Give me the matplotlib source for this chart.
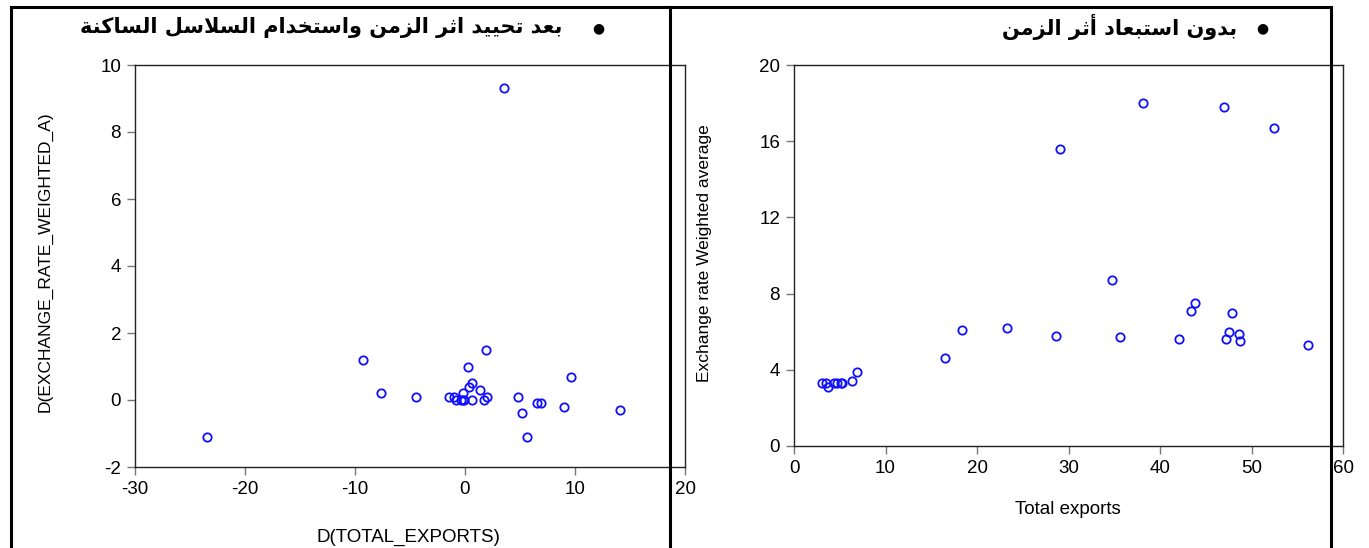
import matplotlib
matplotlib.use("Agg")
import matplotlib.pyplot as plt
from matplotlib.lines import Line2D

# ---------------- data ----------------
left_x = [3.5, -9.3, 1.9, 0.3, 9.6, 0.6, 0.4, 1.4, -7.6, -0.2, -4.5, -1.5, -1.0,
          2.0, 4.8, -0.8, -0.4, -0.2, -0.1, 0.6, 1.7, 6.5, 6.9, 9.0, 5.2, 14.1,
          5.6, -23.5]
left_y = [9.3, 1.2, 1.5, 1.0, 0.7, 0.5, 0.4, 0.3, 0.2, 0.2, 0.1, 0.1, 0.1,
          0.1, 0.1, 0.0, 0.0, 0.0, 0.0, 0.0, 0.0, -0.1, -0.1, -0.2, -0.4, -0.3,
          -1.1, -1.1]

right_x = [3.1, 3.45, 4.4, 4.7, 5.1, 5.3, 3.7, 6.3, 6.9, 16.5, 18.4, 23.3, 28.6,
           29.1, 34.7, 35.6, 38.1, 42.1, 43.4, 43.8, 47.0, 47.2, 47.5, 47.9,
           48.6, 48.7, 52.5, 56.2]
right_y = [3.3, 3.3, 3.3, 3.3, 3.3, 3.3, 3.1, 3.4, 3.9, 4.6, 6.1, 6.2, 5.8,
           15.6, 8.7, 5.7, 18.0, 5.6, 7.1, 7.5, 17.8, 5.6, 6.0, 7.0,
           5.9, 5.5, 16.7, 5.3]

left_xticks = [-30, -20, -10, 0, 10, 20]
left_yticks = [-2, 0, 2, 4, 6, 8, 10]
right_xticks = [0, 10, 20, 30, 40, 50, 60]
right_yticks = [0, 4, 8, 12, 16, 20]

left_title = "بعد تحييد اثر الزمن واستخدام السلاسل الساكنة"
right_title = "بدون استبعاد أثر الزمن"
left_xlabel = "D(TOTAL_EXPORTS)"
left_ylabel = "D(EXCHANGE_RATE_WEIGHTED_A)"
right_xlabel = "Total exports"
right_ylabel = "Exchange rate Weighted average"

# ---------------- Arabic shaping (manual) ----------------
FORMS = {
    'ا': ('\uFE8D', '\uFE8E', None, None),
    'أ': ('\uFE83', '\uFE84', None, None),
    'ب': ('\uFE8F', '\uFE90', '\uFE91', '\uFE92'),
    'ة': ('\uFE93', '\uFE94', None, None),
    'ت': ('\uFE95', '\uFE96', '\uFE97', '\uFE98'),
    'ث': ('\uFE99', '\uFE9A', '\uFE9B', '\uFE9C'),
    'ح': ('\uFEA1', '\uFEA2', '\uFEA3', '\uFEA4'),
    'خ': ('\uFEA5', '\uFEA6', '\uFEA7', '\uFEA8'),
    'د': ('\uFEA9', '\uFEAA', None, None),
    'ر': ('\uFEAD', '\uFEAE', None, None),
    'ز': ('\uFEAF', '\uFEB0', None, None),
    'س': ('\uFEB1', '\uFEB2', '\uFEB3', '\uFEB4'),
    'ع': ('\uFEC9', '\uFECA', '\uFECB', '\uFECC'),
    'ك': ('\uFED9', '\uFEDA', '\uFEDB', '\uFEDC'),
    'ل': ('\uFEDD', '\uFEDE', '\uFEDF', '\uFEE0'),
    'م': ('\uFEE1', '\uFEE2', '\uFEE3', '\uFEE4'),
    'ن': ('\uFEE5', '\uFEE6', '\uFEE7', '\uFEE8'),
    'و': ('\uFEED', '\uFEEE', None, None),
    'ي': ('\uFEF1', '\uFEF2', '\uFEF3', '\uFEF4'),
    'LA': ('\uFEFB', '\uFEFC', None, None),
    'LAH': ('\uFEF7', '\uFEF8', None, None),
}


def shape(text):
    toks = []
    i = 0
    while i < len(text):
        c = text[i]
        if c == 'ل' and i + 1 < len(text) and text[i + 1] in ('ا', 'أ'):
            toks.append('LA' if text[i + 1] == 'ا' else 'LAH')
            i += 2
        else:
            toks.append(c)
            i += 1
    out = []
    for k, t in enumerate(toks):
        if t not in FORMS:
            out.append(t)
            continue
        f = FORMS[t]
        prev = toks[k - 1] if k > 0 else None
        nxt = toks[k + 1] if k + 1 < len(toks) else None
        pj = prev in FORMS and FORMS[prev][2] is not None
        nj = nxt in FORMS and f[2] is not None
        if pj and nj:
            out.append(f[3])
        elif pj:
            out.append(f[1])
        elif nj:
            out.append(f[2])
        else:
            out.append(f[0])
    return ''.join(out)[::-1]


# ---------------- figure ----------------
W, H = 1369, 548
plt.rcParams['font.family'] = ['Liberation Sans', 'DejaVu Sans']
plt.rcParams['axes.unicode_minus'] = False
fig = plt.figure(figsize=(W / 100, H / 100), dpi=100)


def fx(px):
    return px / W


def fy(py):
    return 1 - py / H


def style_axes(ax):
    for s in ax.spines.values():
        s.set_color('#222222')
        s.set_linewidth(1.0)
    ax.tick_params(direction='out', length=6, width=1.0, color='#777777',
                   labelsize=13.5, pad=4, top=False, right=False)


# left axes
axL = fig.add_axes([fx(135), fy(467), fx(685) - fx(135), fy(65) - fy(467)])
axL.plot(left_x, left_y, linestyle='none', marker='o', markersize=6,
         markerfacecolor='none', markeredgecolor='#1010ff', markeredgewidth=1.3)
axL.set_xlim(-30, 20)
axL.set_ylim(-2, 10)
axL.set_xticks(left_xticks)
axL.set_yticks(left_yticks)
style_axes(axL)
fig.text(fx(408), fy(537), left_xlabel, ha='center', va='center', fontsize=13.5)
fig.text(fx(45), fy(262), left_ylabel, ha='center', va='center', fontsize=12.5,
         rotation=90)

# right axes
axR = fig.add_axes([fx(794), fy(446), fx(1343) - fx(794), fy(65) - fy(446)])
axR.plot(right_x, right_y, linestyle='none', marker='o', markersize=6,
         markerfacecolor='none', markeredgecolor='#1010ff', markeredgewidth=1.3)
axR.set_xlim(0, 60)
axR.set_ylim(0, 20)
axR.set_xticks(right_xticks)
axR.set_yticks(right_yticks)
style_axes(axR)
fig.text(fx(1068), fy(510), right_xlabel, ha='center', va='center', fontsize=13.5)
fig.text(fx(705), fy(253), right_ylabel, ha='center', va='center', fontsize=12.5,
         rotation=90)

# titles (Arabic, right-to-left)
fig.text(fx(562), fy(27), shape(left_title), ha='right', va='center',
         fontsize=15, fontweight='bold', family=['DejaVu Sans'])
fig.text(fx(598), fy(28), '\u25CF', ha='center', va='center', fontsize=10,
         family=['DejaVu Sans'])
fig.text(fx(1237), fy(27), shape(right_title), ha='right', va='center',
         fontsize=15, fontweight='bold', family=['DejaVu Sans'])
fig.text(fx(1262), fy(28), '\u25CF', ha='center', va='center', fontsize=10,
         family=['DejaVu Sans'])

# table borders
lw = 2.2
for x in (11, 670, 1331):
    fig.add_artist(Line2D([fx(x), fx(x)], [fy(7), 0], color='black', lw=lw))
fig.add_artist(Line2D([fx(11), fx(1331)], [fy(7), fy(7)], color='black', lw=lw))

fig.savefig('out.png', dpi=100)
